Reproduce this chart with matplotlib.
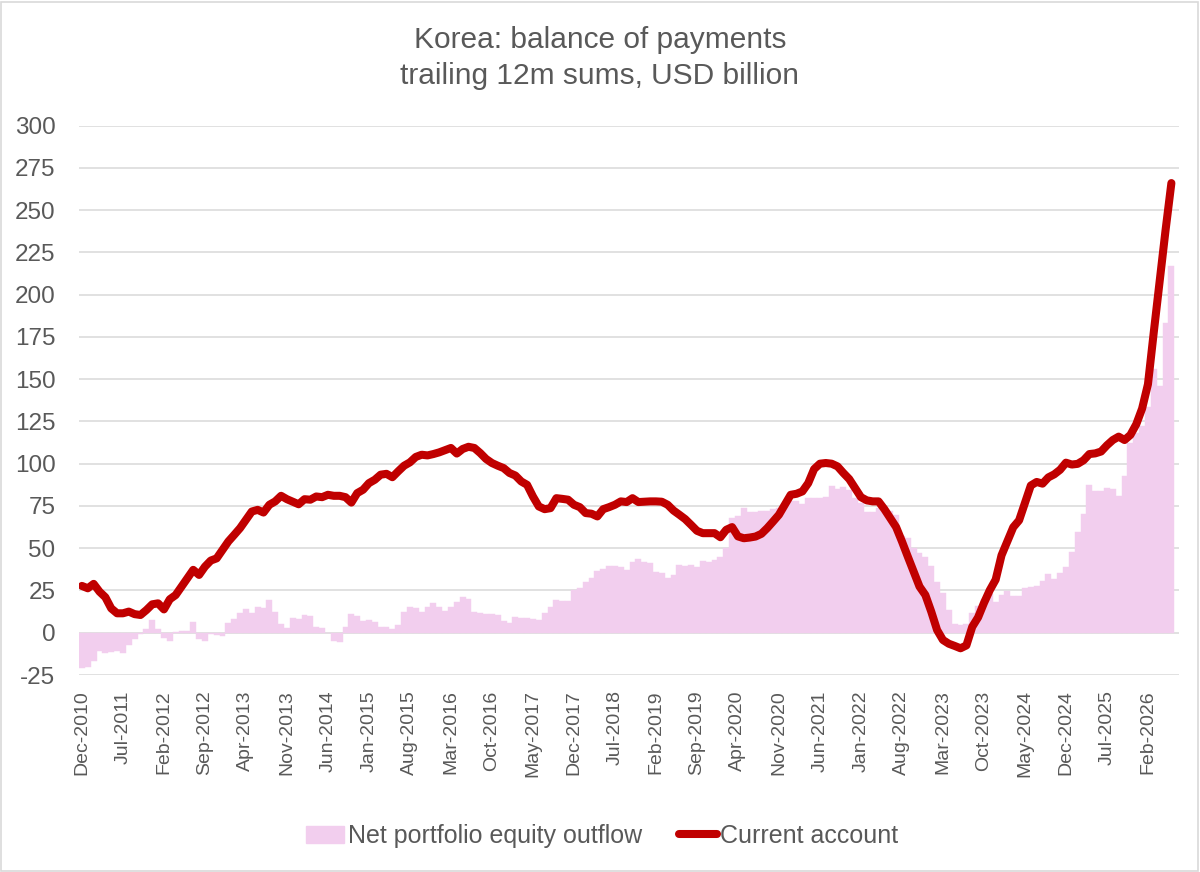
import numpy as np
import matplotlib
matplotlib.use("Agg")
import matplotlib.pyplot as plt
from matplotlib.patches import Patch, Rectangle
from matplotlib.lines import Line2D

# ---------------- data (USD billion, trailing 12m sums, monthly Dec-2010 .. Jun-2026) -------------
equity_outflow = [
    -21, -20, -16.5, -11, -12, -11.5, -11, -12, -7, -3.5,
    -1, 2.5, 7.3, 2.5, -3, -4.7, 0.6, 1.2, 1.2, 6.3,
    -3.5, -4.7, -1, -1.4, -1.8, 5.7, 8, 11.7, 14, 11.7,
    15.2, 14.8, 19.2, 12.3, 5.3, 3, 8.5, 8, 10.5, 9.9,
    3.6, 2.6, -0.4, -5, -5.3, 3.2, 11, 9.9, 6.7, 7.5,
    6.1, 3.2, 3.2, 2.4, 4.5, 12, 15.4, 14.4, 12.3, 15,
    17.6, 15.4, 13, 15, 18, 21, 19.8, 12.3, 11.7, 11,
    11.3, 10.7, 7.1, 5.9, 9.1, 8.7, 8.5, 7.9, 7.5, 11.9,
    15, 19.4, 18.8, 18.8, 25, 26.3, 29.8, 32.2, 36.8, 38,
    39.7, 39.7, 38.7, 37.2, 41.7, 43.7, 42, 41.5, 36.2, 35.2,
    32.6, 34.2, 40.1, 39.7, 40.1, 39, 42.7, 42, 43, 45,
    50, 68, 69.2, 73.7, 71.7, 71.3, 72.1, 72.3, 73, 74,
    76, 78, 78, 76, 79.6, 79.6, 79.6, 80.2, 87, 85.2,
    86.4, 84.6, 80, 76.7, 71.7, 71.3, 74, 72.7, 72.3, 69.8,
    57, 56, 50, 47, 45, 39.7, 30.2, 23.7, 13.4, 5.1,
    4.5, 5, 11.8, 15.9, 20, 23, 18, 22.5, 24.6, 21.7,
    22, 26.2, 27.3, 27.7, 30.4, 34.5, 32, 35.5, 39, 48,
    59.3, 70, 87.2, 84.1, 84.1, 85.7, 85.1, 81, 92.8, 112,
    118, 122.3, 133.7, 156, 146, 183, 217,
]

current_account = [
    27.7, 26.3, 28.9, 24.3, 21, 14.4, 11.5, 11.5, 12.5, 11,
    10.5, 13.4, 16.8, 17.4, 13.8, 19.8, 22.3, 27.3, 32.2, 37.2,
    34.2, 39.1, 42.7, 44, 49, 54, 57.9, 61.9, 66.8, 71.7,
    72.7, 71.1, 75.7, 77.7, 81, 79, 77.5, 76, 79, 78.7,
    80.6, 80.2, 81.6, 81, 81, 80.2, 77, 82.6, 84.6, 88.5,
    90.5, 93.5, 94, 92, 95.5, 98.8, 100.8, 104, 105.3, 104.9,
    105.7, 106.7, 108, 109.3, 106, 108.7, 110, 109.3, 106.3, 102.8,
    100.4, 98.8, 97.4, 94.5, 93, 89.5, 87.5, 80.6, 74.7, 73.1,
    73.7, 79.6, 79.2, 78.7, 75.7, 74.3, 70.8, 70.4, 68.8, 73.1,
    74.3, 75.7, 77.7, 77.3, 79.6, 77.3, 77.5, 77.7, 77.7, 77.5,
    75.7, 72.3, 69.8, 67.2, 63.8, 60.3, 58.9, 58.9, 58.9, 56.5,
    60.9, 62.5, 57, 55.9, 56.3, 56.9, 58.5, 61.9, 65.8, 69.8,
    75.7, 81.6, 82.2, 83.6, 88.5, 96.8, 100, 100.4, 100, 98.4,
    94.5, 90.9, 85.6, 80.2, 78.3, 77.7, 77.7, 73.1, 67.8, 62.5,
    54, 45, 36.2, 27.3, 22.3, 12.5, 1.6, -4.3, -6.5, -7.8,
    -9.2, -7.5, 3.5, 9.1, 17.6, 25.2, 31.4, 45.8, 54.1, 62.4,
    66.5, 76.8, 87.1, 89.2, 88.2, 91.9, 93.7, 96.4, 100.6, 99.5,
    99.9, 102, 105.7, 106.1, 107.2, 110.9, 114, 116, 114, 117,
    123.3, 132.6, 147, 178, 208, 238, 266,
]

tick_labels = [
    "Dec-2010", "Jul-2011", "Feb-2012", "Sep-2012", "Apr-2013", "Nov-2013",
    "Jun-2014", "Jan-2015", "Aug-2015", "Mar-2016", "Oct-2016", "May-2017",
    "Dec-2017", "Jul-2018", "Feb-2019", "Sep-2019", "Apr-2020", "Nov-2020",
    "Jun-2021", "Jan-2022", "Aug-2022", "Mar-2023", "Oct-2023", "May-2024",
    "Dec-2024", "Jul-2025", "Feb-2026",
]
tick_step = 7  # months between labelled ticks

title_line1 = "Korea: balance of payments"
title_line2 = "trailing 12m sums, USD billion"
series_names = ["Net portfolio equity outflow", "Current account"]

# ---------------- style -------------
TXT = "#595959"
PINK = "#F2CEEE"
RED = "#C00000"
GRID = "#D9D9D9"
FONT = ["Liberation Sans", "DejaVu Sans"]

fig = plt.figure(figsize=(12, 8.72), dpi=100)
fig.patch.set_facecolor("white")
fig.patches.append(Rectangle((0.001, 0.001), 0.997, 0.997, transform=fig.transFigure,
                             fill=False, edgecolor=GRID, linewidth=1.2))

ax = fig.add_axes([79 / 1200, 1 - 675 / 872, 1100 / 1200, (675 - 125.6) / 872])

x = np.arange(len(current_account))
ax.bar(x, equity_outflow, width=1.0, color=PINK, edgecolor=PINK, linewidth=0.3, zorder=2)
ax.plot(x, current_account, color=RED, linewidth=5.8, solid_joinstyle="round",
        solid_capstyle="round", zorder=3)

ax.set_ylim(-25, 300)
ax.set_xlim(-0.5, 187.3)
yt = np.arange(-25, 301, 25)
ax.set_yticks(yt)
ax.set_yticklabels([str(v) for v in yt], family=FONT, fontsize=17.5, color=TXT)
ax.yaxis.grid(True, color=GRID, linewidth=1.1, zorder=0)
ax.set_axisbelow(True)
ax.tick_params(axis="y", length=0, pad=17)

xt = np.arange(0, len(tick_labels) * tick_step, tick_step)
ax.set_xticks(xt)
ax.set_xticklabels(tick_labels, rotation=90, family=FONT, fontsize=14, color=TXT)
ax.tick_params(axis="x", length=0, pad=11)

for s in ax.spines.values():
    s.set_visible(False)

fig.text(0.5, 1 - 40 / 872, title_line1, ha="center", va="center",
         family=FONT, fontsize=21.5, color=TXT)
fig.text(0.5, 1 - 76 / 872, title_line2, ha="center", va="center",
         family=FONT, fontsize=21.5, color=TXT)

handles = [Patch(facecolor=PINK, edgecolor=PINK, label=series_names[0]),
           Line2D([0], [0], color=RED, linewidth=5.8, solid_capstyle="round",
                  label=series_names[1])]
leg = fig.legend(handles=handles, loc="center", bbox_to_anchor=(0.502, 1 - 836 / 872),
                 ncol=2, frameon=False, prop={"family": FONT, "size": 18},
                 handlelength=1.5, handletextpad=0.15, columnspacing=1.5)
for t in leg.get_texts():
    t.set_color(TXT)

fig.savefig("out.png", dpi=100, facecolor="white")
